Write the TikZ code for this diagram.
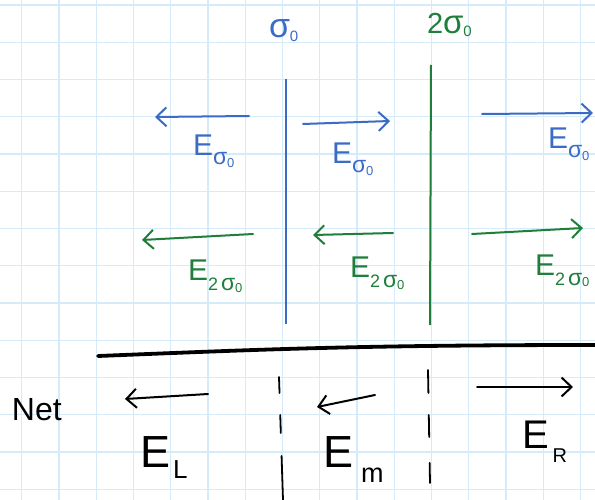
\documentclass[tikz,border=0pt]{standalone}
\usepackage{fontspec}
\setmainfont{Liberation Sans}
\usetikzlibrary{arrows.meta}
\definecolor{gridblue}{HTML}{D6EBF8}
\definecolor{inkblue}{HTML}{3A6CC6}
\definecolor{inkgreen}{HTML}{1F7F3A}
\newcommand{\fs}[1]{\fontsize{#1}{#1}\selectfont}
\newcommand{\Esig}{{\fs{30}E}\raisebox{-9pt}{\fs{23}σ\raisebox{-3pt}{\fs{13}0}}}
\newcommand{\Etwosig}{{\fs{30}E}\raisebox{-10pt}{\fs{18}2\,{\fs{23}σ}\raisebox{-2pt}{\fs{13}0}}}
\begin{document}
\begin{tikzpicture}[x=1pt,y=-1pt,
  gridline/.style={gridblue,line width=1.2pt},
  plate/.style={line width=2pt},
  inkarrow/.style={line width=2pt,line cap=round,-{Straight Barb[length=10pt,width=19pt,line width=2pt]}},
  lbl/.style={anchor=base west,inner sep=0pt,outer sep=0pt},
  netdash/.style={line width=1.8pt,line cap=round}]
\useasboundingbox (0,0) rectangle (595,500);
\fill[white] (0,0) rectangle (595,500);
% grid
\foreach \i in {0,...,15} \draw[gridline] ({21.7+37.25*\i},0) -- ({21.7+37.25*\i},500);
\foreach \j in {0,...,13} \draw[gridline] (0,{5+37.25*\j}) -- (595,{5+37.25*\j});
% plates
\coordinate (p1t) at (286,79); \coordinate (p1b) at (286,324);
\coordinate (p2t) at (431,65); \coordinate (p2b) at (430,325);
\draw[plate,inkblue] (p1t) -- (p1b);
\draw[plate,inkgreen] (p2t) -- (p2b);
\node[lbl,inkblue] (s1) at (269,38) {{\fs{34}σ}\raisebox{-4pt}{\fs{15}0}};
\node[lbl,inkgreen] (s2) at (427,34) {{\fs{29}2}{\fs{33}σ}\raisebox{-3pt}{\fs{15}0}};
% blue field arrows
\coordinate (b1s) at (249,116); \coordinate (b1e) at (155,117);
\coordinate (b2s) at (303,124); \coordinate (b2e) at (390,121);
\coordinate (b3s) at (482,114); \coordinate (b3e) at (593,113);
\draw[inkarrow,inkblue] (b1s) -- (b1e);
\draw[inkarrow,inkblue] (b2s) -- (b2e);
\draw[inkarrow,inkblue] (b3s) -- (b3e);
\node[lbl,inkblue] (eb1) at (193,156) {\Esig};
\node[lbl,inkblue] (eb2) at (332,164) {\Esig};
\node[lbl,inkblue] (eb3) at (548,149) {\Esig};
% green field arrows
\coordinate (g1s) at (253,234); \coordinate (g1e) at (142,240);
\coordinate (g2s) at (393,233); \coordinate (g2e) at (313,235);
\coordinate (g3s) at (472,234); \coordinate (g3e) at (583,228);
\draw[inkarrow,inkgreen] (g1s) -- (g1e);
\draw[inkarrow,inkgreen] (g2s) -- (g2e);
\draw[inkarrow,inkgreen] (g3s) -- (g3e);
\node[lbl,inkgreen] (eg1) at (188,280) {\Etwosig};
\node[lbl,inkgreen] (eg2) at (350,277) {\Etwosig};
\node[lbl,inkgreen] (eg3) at (535,275) {\Etwosig};
% divider
\coordinate (d1) at (98,356); \coordinate (d2) at (595,345);
\draw[line width=3.8pt,line cap=round] (d1) .. controls (250,350) and (350,345) .. (d2);
% net
\node[lbl] (net) at (12,420) {\fs{32}Net};
\coordinate (n1s) at (208,394); \coordinate (n1e) at (125,399);
\coordinate (n2s) at (375,395); \coordinate (n2e) at (317,407);
\coordinate (n3s) at (477,387); \coordinate (n3e) at (573,387);
\draw[inkarrow,black] (n1s) -- (n1e);
\draw[inkarrow,black] (n2s) -- (n2e);
\draw[inkarrow,black] (n3s) -- (n3e);
\coordinate (l1t) at (279,377); \coordinate (l1b) at (283,500);
\coordinate (l2t) at (428,370); \coordinate (l2b) at (430,483);
\draw[netdash,dash pattern=on 16pt off 22pt on 18pt off 23pt on 44pt] (l1t) -- (l1b);
\draw[netdash,dash pattern=on 23pt off 22pt on 22pt off 26pt on 20pt] (l2t) -- (l2b);
\node[lbl] (eL) at (140,467) {{\fs{45}E}\hspace{3pt}\raisebox{-11pt}{\fs{26}L}};
\node[lbl] (eM) at (323,467) {{\fs{45}E}\hspace{8pt}\raisebox{-15pt}{\fs{27}m}};
\node[lbl] (eR) at (522,448) {{\fs{40}E}\hspace{4pt}\raisebox{-14pt}{\fs{20}R}};
\end{tikzpicture}
\end{document}
